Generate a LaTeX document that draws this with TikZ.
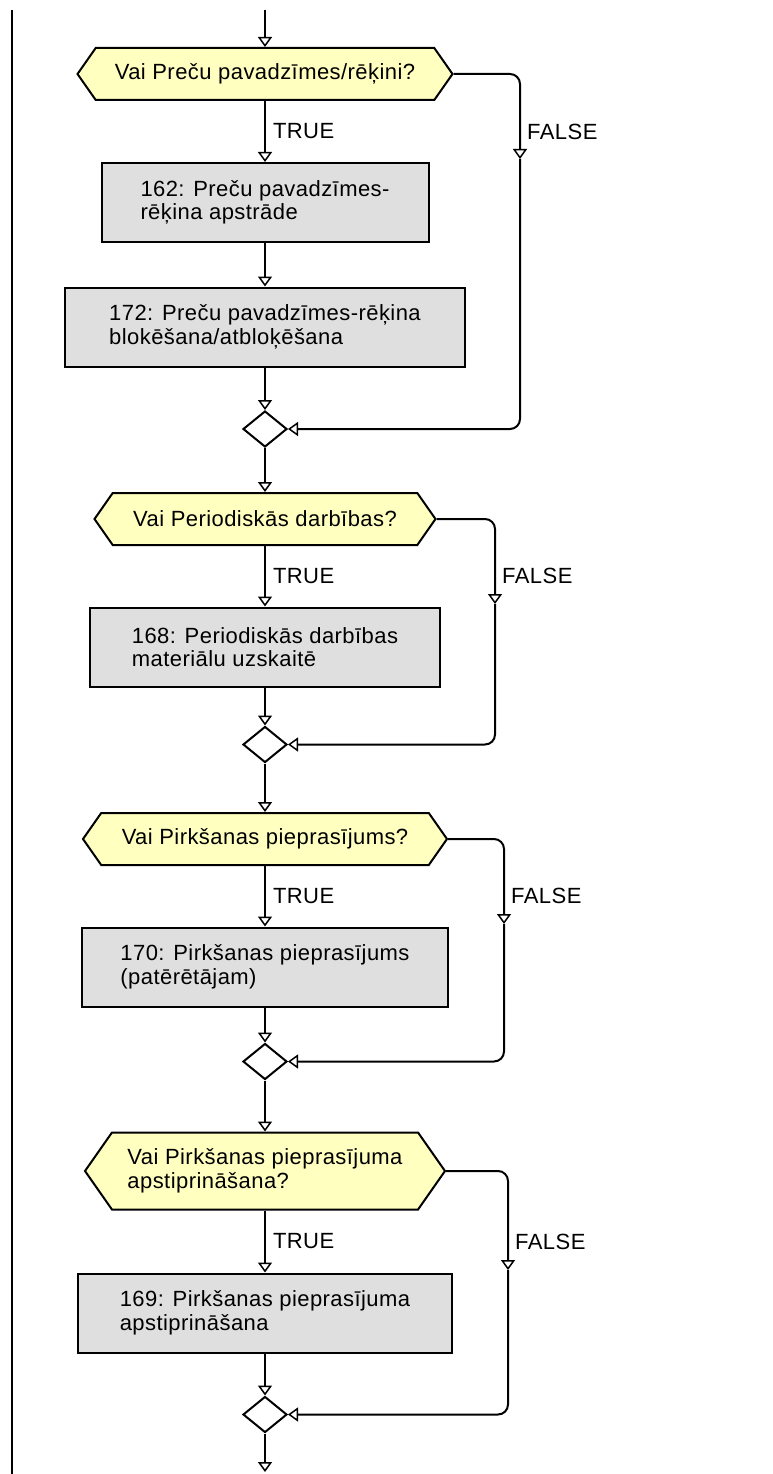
\documentclass[tikz,border=0pt]{standalone}
\usepackage{fontspec}
\setmainfont{Liberation Sans}[LetterSpace=2]
\usetikzlibrary{arrows.meta,positioning,shapes.geometric,shapes.symbols}
\definecolor{decisionyellow}{RGB}{255,255,192}
\definecolor{processgray}{RGB}{223,223,223}
\begin{document}
\begin{tikzpicture}[
  x=1pt, y=-1pt,
  decision/.style={signal, signal to=west and east, signal pointer angle=110, draw, line width=2pt, fill=decisionyellow, minimum height=52pt, inner sep=0pt, align=left},
  process/.style={rectangle, draw, line width=2pt, fill=processgray, minimum height=79pt, inner sep=0pt, align=left},
  merge/.style={diamond, draw, line width=2pt, fill=white, minimum width=44pt, minimum height=36pt, inner sep=0pt},
  flow/.style={line width=2pt, -{Triangle[open, width=14pt, length=10pt, line width=1.5pt]}},
  back/.style={flow, rounded corners=10pt},
  lbl/.style={right, inner sep=7pt},
  font=\fontsize{22}{23.5}\selectfont
]
\useasboundingbox (0,0) rectangle (772,1474);
\draw[line width=2pt] (12,10) -- (12,1474);

\coordinate (start) at (265,10);
\node[decision, minimum width=375pt] (d1) at (265,74) {Vai Preču pavadzīmes/rēķini?};
\node[process, below of=d1, node distance=128.5pt, minimum width=327pt] (p162) {162: Preču pavadzīmes-\\rēķina apstrāde};
\node[process, below of=p162, node distance=124.5pt, minimum width=400pt] (p172) {172: Preču pavadzīmes-rēķina\\blokēšana/atbloķēšana};
\node[merge, below of=p172, node distance=102pt] (m1) {};

\node[decision, below of=m1, node distance=90pt, minimum width=341pt] (d2) {Vai Periodiskās darbības?};
\node[process, below of=d2, node distance=128pt, minimum width=350pt] (p168) {168: Periodiskās darbības\\materiālu uzskaitē};
\node[merge, below of=p168, node distance=97.5pt] (m2) {};

\node[decision, below of=m2, node distance=94.5pt, minimum width=364pt] (d3) {Vai Pirkšanas pieprasījums?};
\node[process, below of=d3, node distance=128pt, minimum width=366pt] (p170) {170: Pirkšanas pieprasījums\\(patērētājam)};
\node[merge, below of=p170, node distance=94.5pt] (m3) {};

\node[decision, below of=m3, node distance=109.5pt, minimum width=360pt, minimum height=77pt] (d4) {Vai Pirkšanas pieprasījuma\\apstiprināšana?};
\node[process, below of=d4, node distance=142pt, minimum width=374pt] (p169) {169: Pirkšanas pieprasījuma\\apstiprināšana};
\node[merge, below of=p169, node distance=101.5pt] (m4) {};
\coordinate (finish) at (265,1472);

% FALSE branch corners
\coordinate (f1) at (520,159);
\coordinate (f2) at (495,604);
\coordinate (f3) at (504,924);
\coordinate (f4) at (508,1270);

% Arrows
\draw[flow] (start) -- (d1.north);
\draw[flow] (d1.south) -- node[lbl] (t1) {TRUE} (p162.north);
\draw[flow] (p162) -- (p172);
\draw[flow] (p172) -- (m1.north);
\draw[back] (d1.east) -| (f1);
\draw[back] (f1) |- (m1.east);
\node[lbl] at (f1 |- t1) {FALSE};

\draw[flow] (m1.south) -- (d2.north);
\draw[flow] (d2.south) -- node[lbl] (t2) {TRUE} (p168.north);
\draw[flow] (p168) -- (m2.north);
\draw[back] (d2.east) -| (f2);
\draw[back] (f2) |- (m2.east);
\node[lbl] at (f2 |- t2) {FALSE};

\draw[flow] (m2.south) -- (d3.north);
\draw[flow] (d3.south) -- node[lbl] (t3) {TRUE} (p170.north);
\draw[flow] (p170) -- (m3.north);
\draw[back] (d3.east) -| (f3);
\draw[back] (f3) |- (m3.east);
\node[lbl] at (f3 |- t3) {FALSE};

\draw[flow] (m3.south) -- (d4.north);
\draw[flow] (d4.south) -- node[lbl] (t4) {TRUE} (p169.north);
\draw[flow] (p169) -- (m4.north);
\draw[back] (d4.east) -| (f4);
\draw[back] (f4) |- (m4.east);
\node[lbl] at (f4 |- t4) {FALSE};

\draw[flow] (m4.south) -- (finish);
\end{tikzpicture}
\end{document}
